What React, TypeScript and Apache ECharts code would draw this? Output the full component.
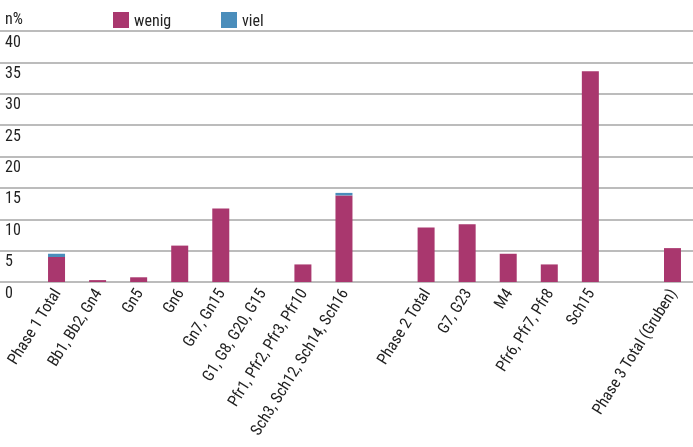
import React, { useEffect, useRef } from "react";
import * as echarts from "echarts";

const categories = [
  "Phase 1 Total",
  "Bb1, Bb2, Gn4",
  "Gn5",
  "Gn6",
  "Gn7, Gn15",
  "G1, G8, G20, G15",
  "Pfr1, Pfr2, Pfr3, Pfr10",
  "Sch3, Sch12, Sch14, Sch16",
  "",
  "Phase 2 Total",
  "G7, G23",
  "M4",
  "Pfr6, Pfr7, Pfr8",
  "Sch15",
  " ",
  "Phase 3 Total (Gruben)",
];
const wenig = [4.0, 0.3, 0.75, 5.8, 11.7, 0, 2.8, 13.8, null, 8.7, 9.2, 4.5, 2.8, 33.6, null, 5.4];
const viel = [0.5, 0, 0, 0, 0, 0, 0, 0.4, null, 0, 0, 0, 0, 0, null, 0];
const yTicks = { min: 0, max: 40, interval: 5 };

const FONT = '"Roboto Condensed", "DejaVu Sans Condensed", sans-serif';
const C_WENIG = "#a9376e";
const C_VIEL = "#4a8dbb";

export default function App() {
  const ref = useRef<HTMLDivElement>(null);
  useEffect(() => {
    if (!ref.current) return;
    const chart = echarts.init(ref.current, null, { renderer: "svg" });
    chart.setOption({
      animation: false,
      textStyle: { fontFamily: FONT },
      title: {
        text: "n%",
        left: 0,
        top: 5,
        textStyle: { fontFamily: FONT, fontSize: 16, fontWeight: "normal", color: "#222" },
      },
      legend: [
        {
          data: ["wenig"],
          left: 108,
          top: 7,
          itemWidth: 16,
          itemHeight: 16,
          itemGap: 0,
          icon: "rect",
          textStyle: { fontFamily: FONT, fontSize: 16, color: "#222" },
        },
        {
          data: ["viel"],
          left: 216,
          top: 7,
          itemWidth: 16,
          itemHeight: 16,
          icon: "rect",
          textStyle: { fontFamily: FONT, fontSize: 16, color: "#222" },
        },
      ],
      grid: [
        { left: 0, right: 0, top: 31, bottom: 165 },
        { left: 36, right: -1, top: 31, bottom: 165 },
      ],
      xAxis: [
        { gridIndex: 0, type: "category", data: [""], show: false },
        {
          gridIndex: 1,
          type: "category",
          data: categories,
          axisLine: { show: false },
          axisTick: { show: false },
          axisLabel: {
            rotate: 58,
            interval: 0,
            margin: 8,
            fontFamily: FONT,
            fontSize: 16,
            color: "#222",
          },
        },
      ],
      yAxis: [
        {
          gridIndex: 0,
          type: "value",
          min: yTicks.min,
          max: yTicks.max,
          interval: yTicks.interval,
          axisLine: { show: false },
          axisTick: { show: false },
          splitLine: { show: true, lineStyle: { color: "#a6a6a6", width: 1.5 } },
          axisLabel: {
            inside: true,
            margin: 5,
            showMaxLabel: true,
            showMinLabel: true,
            verticalAlign: "top",
            padding: [2, 0, 0, 0],
            fontFamily: FONT,
            fontSize: 16,
            color: "#222",
          },
        },
        {
          gridIndex: 1,
          type: "value",
          min: yTicks.min,
          max: yTicks.max,
          interval: yTicks.interval,
          show: false,
        },
      ],
      series: [
        {
          name: "wenig",
          type: "bar",
          stack: "a",
          xAxisIndex: 1,
          yAxisIndex: 1,
          barWidth: 17,
          data: wenig,
          itemStyle: { color: C_WENIG },
        },
        {
          name: "viel",
          type: "bar",
          stack: "a",
          xAxisIndex: 1,
          yAxisIndex: 1,
          barWidth: 17,
          data: viel,
          itemStyle: { color: C_VIEL },
        },
      ],
    });
    return () => chart.dispose();
  }, []);
  return (
    <div
      ref={ref}
      style={{ position: "fixed", left: 0, top: 0, width: 693, height: 447 }}
    />
  );
}
